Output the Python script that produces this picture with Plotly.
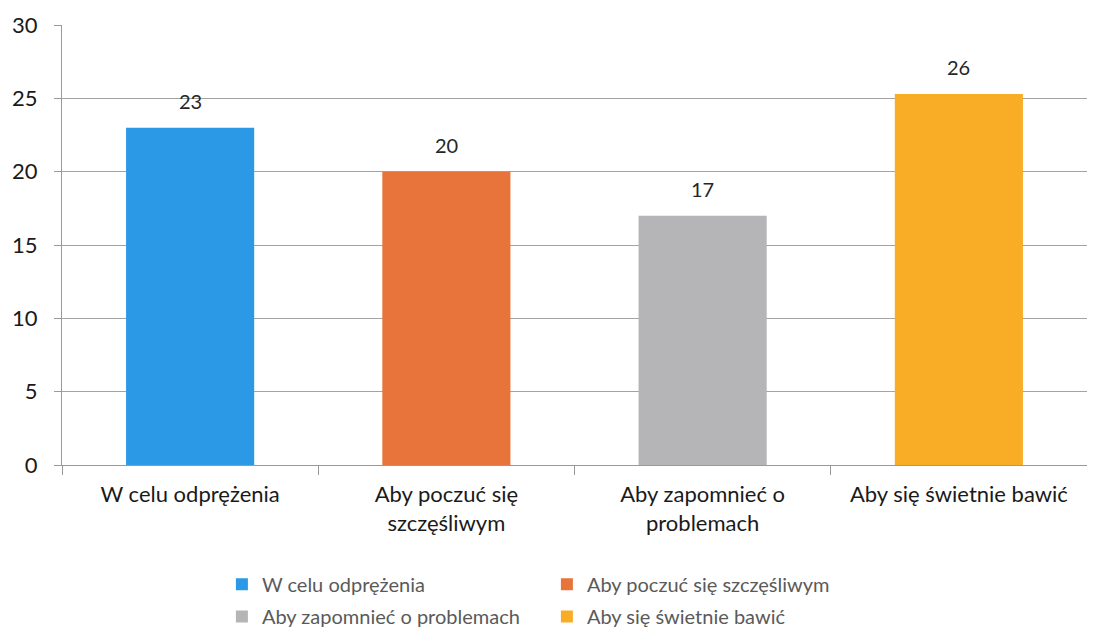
import plotly.graph_objects as go

# dane z wykresu
kategorie = ["W celu odprężenia", "Aby poczuć się szczęśliwym",
             "Aby zapomnieć o problemach", "Aby się świetnie bawić"]
etykiety_osi = ["W celu odprężenia", "Aby poczuć się<br>szczęśliwym",
                "Aby zapomnieć o<br>problemach", "Aby się świetnie bawić"]
wartosci = [23, 20, 17, 25.3]
etykiety_wartosci = ["23", "20", "17", "26"]
kolory = ["#2b99e6", "#e8733b", "#b5b5b7", "#f9ad27"]

fig = go.Figure()

# jeden slupek na serie, zeby legenda miala cztery pozycje
for i, nazwa in enumerate(kategorie):
    fig.add_trace(go.Bar(
        x=[etykiety_osi[i]],
        y=[wartosci[i]],
        name=nazwa,
        marker=dict(color=kolory[i], line=dict(width=0)),
        width=0.5,
        legend="legend" if i in (0, 1) else "legend2",
    ))

# etykiety wartosci nad slupkami
for i in range(len(kategorie)):
    fig.add_annotation(
        x=etykiety_osi[i], y=wartosci[i], text=etykiety_wartosci[i],
        showarrow=False, yshift=27, xref="x", yref="y",
        font=dict(size=20, color="#262626"),
    )

leg = dict(orientation="h", x=0.156, xanchor="left", yanchor="middle",
           entrywidth=280, font=dict(size=20, color="#5a5a5a"),
           itemwidth=30, bgcolor="rgba(0,0,0,0)")

# strona ma margines 8px, wiec figura jest o 16px mniejsza od okna
fig.update_layout(
    width=1079, height=628,
    margin=dict(l=54, r=0, t=17, b=170),
    plot_bgcolor="white", paper_bgcolor="white",
    font=dict(family="Lato, Carlito, sans-serif", color="#262626"),
    barmode="overlay",
    legend=dict(leg, y=-0.268),
    legend2=dict(leg, y=-0.344),
)

fig.update_xaxes(
    categoryorder="array", categoryarray=etykiety_osi,
    showline=True, linecolor="#9a9a9a", linewidth=1,
    ticks="outside", tickson="boundaries", ticklen=9, tickcolor="#9a9a9a",
    ticklabelstandoff=10,
    tickfont=dict(size=22, color="#1a1a1a"),
    showgrid=False, automargin=False,
)
fig.update_yaxes(
    range=[0, 30], dtick=5,
    showline=True, linecolor="#9a9a9a", linewidth=1,
    ticks="outside", ticklen=7, tickcolor="#9a9a9a",
    ticklabelstandoff=12,
    showgrid=True, gridcolor="#a3a3a3", gridwidth=1,
    tickfont=dict(size=22, color="#1a1a1a"),
    zeroline=False, automargin=False,
)

fig.write_html("out.html")
